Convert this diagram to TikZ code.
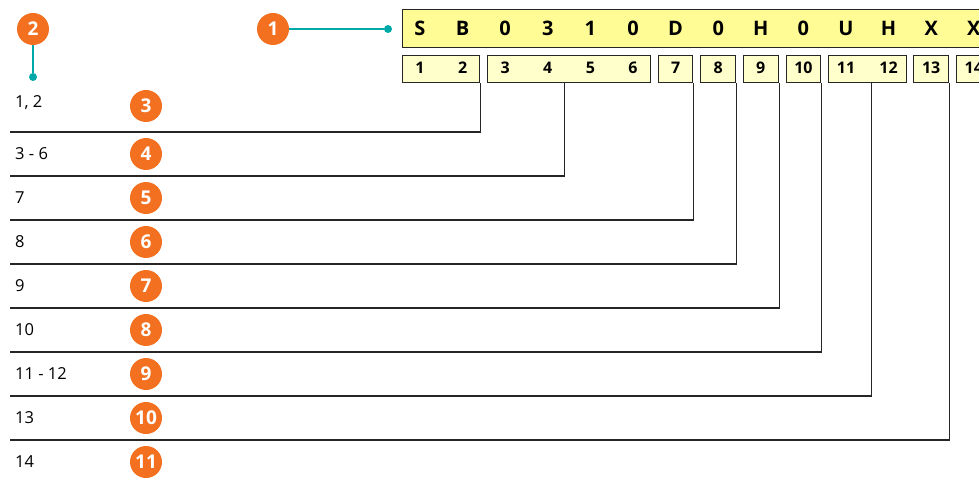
\documentclass[tikz,border=0pt]{standalone}
\usepackage{fontspec}
\setmainfont{Open Sans}
\usetikzlibrary{positioning,calc}

\definecolor{badgeorange}{RGB}{243,112,33}
\definecolor{pointerteal}{RGB}{0,168,168}
\definecolor{codefill}{RGB}{255,252,150}
\definecolor{posfill}{RGB}{255,255,204}

\begin{document}
\begin{tikzpicture}[x=1pt,y=-1pt,
	badge/.style={circle,fill=badgeorange,text=white,inner sep=0pt,minimum size=32pt,
		font=\fontsize{19}{19}\selectfont\bfseries},
	dot/.style={circle,fill=pointerteal,inner sep=0pt,minimum size=8pt},
	pointer/.style={draw=pointerteal,line width=1.6pt},
	codebox/.style={draw=black!85,line width=1.2pt,fill=codefill,anchor=north west,
		minimum height=38pt,minimum width=620pt,inner sep=0pt},
	posbox/.style={draw=black!85,line width=1.2pt,fill=posfill,anchor=north west,
		minimum height=27pt,inner sep=0pt},
	codechar/.style={font=\fontsize{20}{20}\selectfont\bfseries,inner sep=0pt},
	posnum/.style={font=\fontsize{16}{16}\selectfont\bfseries,inner sep=0pt},
	rowlabel/.style={anchor=west,font=\fontsize{16.5}{16.5}\selectfont,inner sep=0pt},
	leader/.style={draw=black!85,line width=1.1pt},]
	\clip (0,0) rectangle (979,478);
	% code string
	\node [codebox] (code) at (402,9) {};
	\foreach \ch [count=\i from 0] in {S,B,0,3,1,0,D,0,H,0,U,H,X,X}
		\node [codechar] (c\i) at (420+42.6*\i,28) {\ch};
	% position boxes
	\foreach \x/\w/\n in {402/77/p12,487/163/p36,658/34/p7,700/35/p8,743/35/p9,
		786/34/p10,828/78/p1112,913/35/p13,956/40/p14}
		\node [posbox,minimum width=\w pt] (\n) at (\x,55) {};
	\foreach \d [count=\i from 0] in {1,...,14}
		\node [posnum] (n\d) at (420+42.6*\i,68) {\d};
	% badges 1 and 2
	\node [badge] (b1) at (273,29) {1};
	\node [dot] (d1) at (388,29) {};
	\draw [pointer] (b1) -- (d1);
	\node [badge] (b2) at (33,29) {2};
	\node [dot] (d2) at (33,77) {};
	\draw [pointer] (b2) -- (d2);
	% rows
	\node [rowlabel] (r1) at (15,103) {1, 2};
	\node [badge] (b3) at (146,106) {3};
	\foreach \t [count=\k from 2] in {3 - 6,7,8,9,10,11 - 12,13,14}{
		\node [rowlabel] (r\k) at (15,154+44*\k-88) {\t};
		\pgfmathtruncatemacro{\num}{\k+2}
		\node [badge] (b\num) at (146,154+44*\k-88) {\num};
	}
	\foreach \k in {1,...,8}
		\coordinate (l\k) at (10,88+44*\k);
	% leaders
	\draw [leader] (p12.south east) |- (l1);
	\draw [leader] ([xshift=-4.5pt]p36.south) |- (l2);
	\draw [leader] (p7.south east) |- (l3);
	\draw [leader] (p8.south east) |- (l4);
	\draw [leader] (p9.south east) |- (l5);
	\draw [leader] (p10.south east) |- (l6);
	\draw [leader] ([xshift=4pt]p1112.south) |- (l7);
	\draw [leader] (p13.south east) |- (l8);
\end{tikzpicture}
\end{document}
